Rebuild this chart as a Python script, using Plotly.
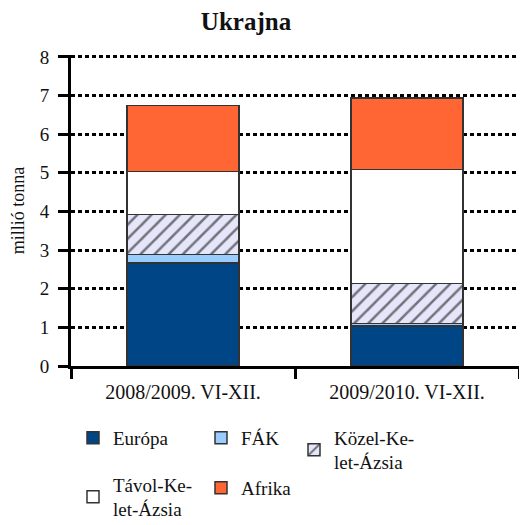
import plotly.graph_objects as go

categories = ["2008/2009. VI-XII.", "2009/2010. VI-XII."]
europa = [2.66, 1.04]
fak = [0.23, 0.06]
kozel = [1.03, 1.04]
tavol = [1.11, 2.94]
afrika = [1.71, 1.86]

series_names = ["Európa", "FÁK", "Közel-Ke-<br>let-Ázsia", "Távol-Ke-<br>let-Ázsia", "Afrika"]
series_values = [europa, fak, kozel, tavol, afrika]
colors = ["#004586", "#99CCFF", "#E6E6FA", "#FFFFFF", "#FF6633"]
legend_ids = ["legend", "legend2", "legend3", "legend4", "legend5"]

FONT = "Liberation Serif"
YMAX = 8.05
# page body has an 8px margin, so the figure is drawn 8px smaller and offset
OFF = 8
W, H = 527 - OFF, 525 - OFF
y0_page, y8_page = 366, 57
top_page = y0_page - (y0_page - y8_page) * YMAX / 8
L, T = 71 - OFF, int(round(top_page - OFF))
R = W - (519 - OFF)
B = H - (y0_page - OFF)
pw, ph = W - L - R, H - T - B

fig = go.Figure()
for name, vals, col, lg in zip(series_names, series_values, colors, legend_ids):
    marker = dict(color=col, line=dict(color="#333333", width=1.5))
    if name.startswith("Közel"):
        marker["pattern"] = dict(shape="/", bgcolor=col, fgcolor="#000000", size=10, solidity=0.25)
    fig.add_trace(go.Bar(x=categories, y=vals, name=name, marker=marker, legend=lg))

def px_x(p):  # p in page pixels (legend box left)
    return (p - OFF - L) / pw

def px_y(p):  # p in page pixels
    return (H - B - (p - OFF)) / ph

leg_pos = {
    "legend": (73, 438),
    "legend2": (201, 438),
    "legend3": (294, 450),
    "legend4": (73, 497),
    "legend5": (201, 488),
}
for lg, (lx, ly) in leg_pos.items():
    fig.update_layout(**{lg: dict(x=px_x(lx), y=px_y(ly), xanchor="left", yanchor="middle",
                                  font=dict(family=FONT, size=19, color="#111"),
                                  bgcolor="rgba(0,0,0,0)", borderwidth=0)})

fig.update_layout(
    width=W, height=H,
    barmode="stack", bargap=0.5,
    plot_bgcolor="white", paper_bgcolor="white",
    margin=dict(l=L, r=R, t=T, b=B, autoexpand=False),
    font=dict(family=FONT, size=18, color="#111"),
    title=dict(text="<b>Ukrajna</b>", x=(246 - OFF) / W, xref="container", xanchor="center",
               y=1 - 13 / H, yref="container", yanchor="middle",
               font=dict(family=FONT, size=25, color="#111")),
    showlegend=True,
)
fig.update_yaxes(
    range=[0, YMAX], dtick=1, tick0=0,
    showline=True, linecolor="black", linewidth=3,
    ticks="outside", ticklen=10, tickwidth=3, tickcolor="black",
    ticklabelstandoff=5,
    showgrid=True, gridcolor="black", gridwidth=3, griddash="4px,3px",
    zeroline=False,
    tickfont=dict(family=FONT, size=19, color="#111"),
    title=dict(text="millió tonna", font=dict(family=FONT, size=18, color="#111"), standoff=18),
)
fig.update_xaxes(
    showline=True, linecolor="black", linewidth=3,
    ticks="outside", ticklen=10, tickwidth=3, tickcolor="black",
    tickson="boundaries", ticklabelstandoff=6,
    tickfont=dict(family=FONT, size=20, color="#111"),
)

fig.write_html("out.html")
